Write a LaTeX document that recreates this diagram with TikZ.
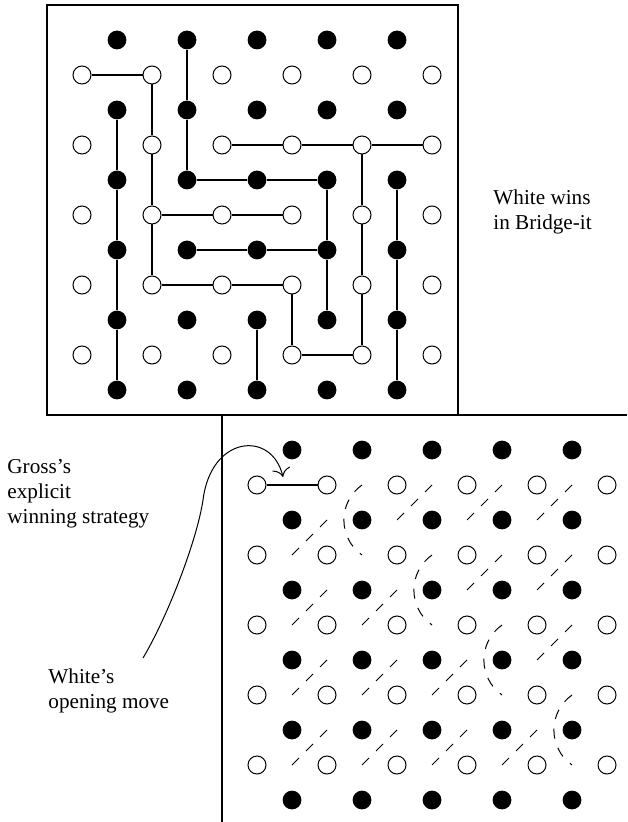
\documentclass[tikz,border=0pt]{standalone}
\usepackage{fontspec}
\setmainfont{Liberation Serif}
\usetikzlibrary{arrows.meta}

\begin{document}
\begin{tikzpicture}[x=0.5pt, y=-0.5pt,
    whitept/.style={circle, draw, fill=white, line width=0.5pt,
                    minimum size=9pt, inner sep=0pt},
    blackpt/.style={circle, fill=black, minimum size=9.4pt, inner sep=0pt},
    bridge/.style={line width=0.55pt},
    opening/.style={line width=1.3pt},
    pairing/.style={line width=0.5pt, dash pattern=on 5pt off 4.9pt},
    frame/.style={line width=0.8pt},
    caption/.style={font=\fontsize{10.6}{12.4}\selectfont, align=left,
                    anchor=west, inner sep=0pt},
  ]
  \useasboundingbox (0,0) rectangle (627,822);

  % frames
  \draw[frame] (47,5) rectangle (458,415);
  \draw[frame] (458,415) -- (627,415);
  \draw[frame] (222,415) -- (222,822);

  \node[caption] (winlbl) at (493,212) {White wins\\in Bridge-it};
  \node[caption] (grosslbl) at (7,494) {Gross's\\explicit\\winning strategy};
  \node[caption] (openlbl) at (48,691) {White's\\opening move};

  % finished game
  \begin{scope}[xshift=41pt, yshift=-20pt, x=17.5pt, y=-17.5pt]
    \foreach \i in {0,...,5} \foreach \j in {0,...,4}
      \node[whitept] (tw-\i-\j) at (2*\i, 2*\j+1) {};
    \foreach \i in {0,...,4} \foreach \j in {0,...,5}
      \node[blackpt] (tb-\i-\j) at (2*\i+1, 2*\j) {};
    \foreach \p/\q in {0-0/1-0, 1-0/1-1, 1-1/1-2, 1-2/1-3, 1-2/2-2, 2-2/3-2,
        1-3/2-3, 2-3/3-3, 3-3/3-4, 3-4/4-4, 4-4/4-3, 4-3/4-2, 4-2/4-1,
        2-1/3-1, 3-1/4-1, 4-1/5-1}
      \draw[bridge] (tw-\p) -- (tw-\q);
    \foreach \p/\q in {1-0/1-1, 1-1/1-2, 1-2/2-2, 2-2/3-2, 3-2/3-3, 3-3/3-4,
        0-1/0-2, 0-2/0-3, 0-3/0-4, 0-4/0-5, 1-3/2-3, 2-3/3-3, 2-4/2-5,
        4-2/4-3, 4-3/4-4, 4-4/4-5}
      \draw[bridge] (tb-\p) -- (tb-\q);
  \end{scope}

  % pairing strategy
  \begin{scope}[xshift=128.5pt, yshift=-225pt, x=17.5pt, y=-17.5pt]
    \foreach \i in {0,...,5} \foreach \j in {0,...,4}
      \node[whitept] (bw-\i-\j) at (2*\i, 2*\j+1) {};
    \foreach \i in {0,...,4} \foreach \j in {0,...,5}
      \node[blackpt] (bb-\i-\j) at (2*\i+1, 2*\j) {};
    \draw[opening] (bw-0-0) -- (bw-1-0);
    \foreach \a/\b in {1/3, 1/5, 3/5, 1/7, 3/7, 5/7, 1/9, 3/9, 5/9, 7/9,
        4/2, 6/2, 8/2, 6/4, 8/4, 8/6}
      \draw[pairing] (\a,\b) -- ++(1,-1);
    \foreach \a in {3,5,7,9}
      \draw[pairing] (\a,\a-2) .. controls +(-0.69,0.49) and +(-0.69,-0.49) .. (\a,\a);
  \end{scope}

  \coordinate (movetail) at (143,658);
  \coordinate (movetip) at (283,477);
  \draw[-{To[scale=1.6]}, line width=0.5pt] (movetail)
    .. controls (168,616) and (197,540) .. (203,500)
    .. controls (211,435) and (272,430) .. (movetip);
\end{tikzpicture}
\end{document}
